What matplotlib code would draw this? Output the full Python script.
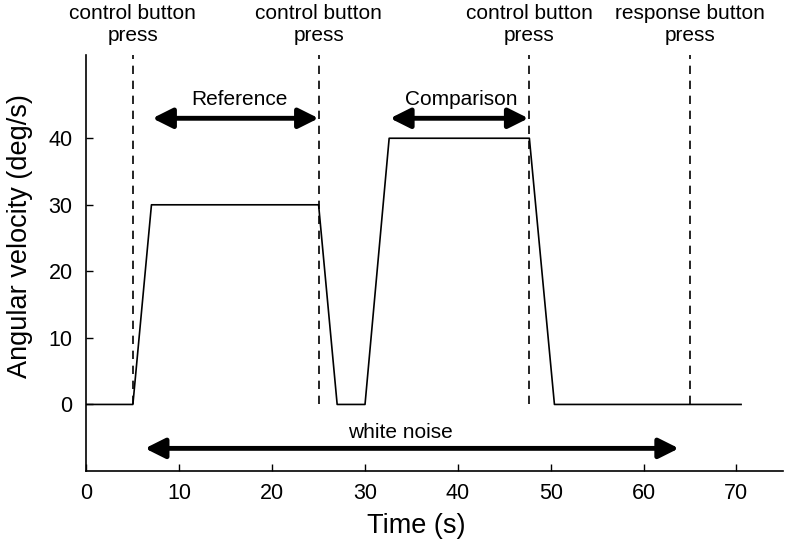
import matplotlib
matplotlib.use('Agg')
import matplotlib.pyplot as plt
import matplotlib.transforms as mtransforms

plt.rcParams['font.family'] = ['Liberation Sans', 'DejaVu Sans']

# stimulus profile (time in s, angular velocity in deg/s)
time = [0, 5, 7, 25, 27, 30, 32.6, 47.7, 50.4, 70.5]
velocity = [0, 0, 30, 30, 0, 0, 40, 40, 0, 0]

# button presses
press_times = [5, 25, 47.7, 65]
press_labels = ['control button\npress', 'control button\npress',
                'control button\npress', 'response button\npress']

# interval arrows: (start, end, y, label, label_x, label_y)
intervals = [(7.1, 25, 43, 'Reference', 16.5, 45.8),
             (32.7, 47.6, 43, 'Comparison', 40.4, 45.8),
             (6.3, 63.8, -6.6, 'white noise', 33.8, -4.2)]

x_ticks = [0, 10, 20, 30, 40, 50, 60, 70]
y_ticks = [0, 10, 20, 30, 40]

fig = plt.figure(figsize=(7.86, 5.43), dpi=100)
ax = fig.add_axes([0.110, 0.1326, 0.886, 0.766])

ax.plot(time, velocity, color='black', lw=1.2)

# dashed press lines with labels above the axes
trans = mtransforms.blended_transform_factory(ax.transData, fig.transFigure)
for t, lab in zip(press_times, press_labels):
    ax.plot([t, t], [0, 52.5], color='black', lw=1.2, linestyle=(0, (5, 4)))
    ax.text(t, 0.954, lab, transform=trans, ha='center', va='center',
            fontsize=15, linespacing=1.2)

# arrows
for x0, x1, y, lab, lx, ly in intervals:
    ax.annotate('', xy=(x1, y), xytext=(x0, y),
                arrowprops=dict(arrowstyle='<|-|>,head_length=0.6,head_width=0.3',
                                lw=3.5, color='black', mutation_scale=20,
                                shrinkA=0, shrinkB=0))
    ax.text(lx, ly, lab, ha='center', va='center', fontsize=15)

ax.set_xlim(0, 75)
ax.set_ylim(-10, 52.5)
ax.set_xticks(x_ticks)
ax.set_yticks(y_ticks)
ax.tick_params(direction='in', length=5, width=1, labelsize=15.5)
ax.tick_params(axis='x', pad=9)
ax.tick_params(axis='y', pad=10)
ax.spines['top'].set_visible(False)
ax.spines['right'].set_visible(False)
for s in ['left', 'bottom']:
    ax.spines[s].set_linewidth(1.2)

ax.set_xlabel('Time (s)', fontsize=19.5)
ax.set_ylabel('Angular velocity (deg/s)', fontsize=19.5)
ax.xaxis.set_label_coords(0.474, -0.1)
ax.yaxis.set_label_coords(-0.077, 0.566)

fig.savefig('out.png', dpi=100)
